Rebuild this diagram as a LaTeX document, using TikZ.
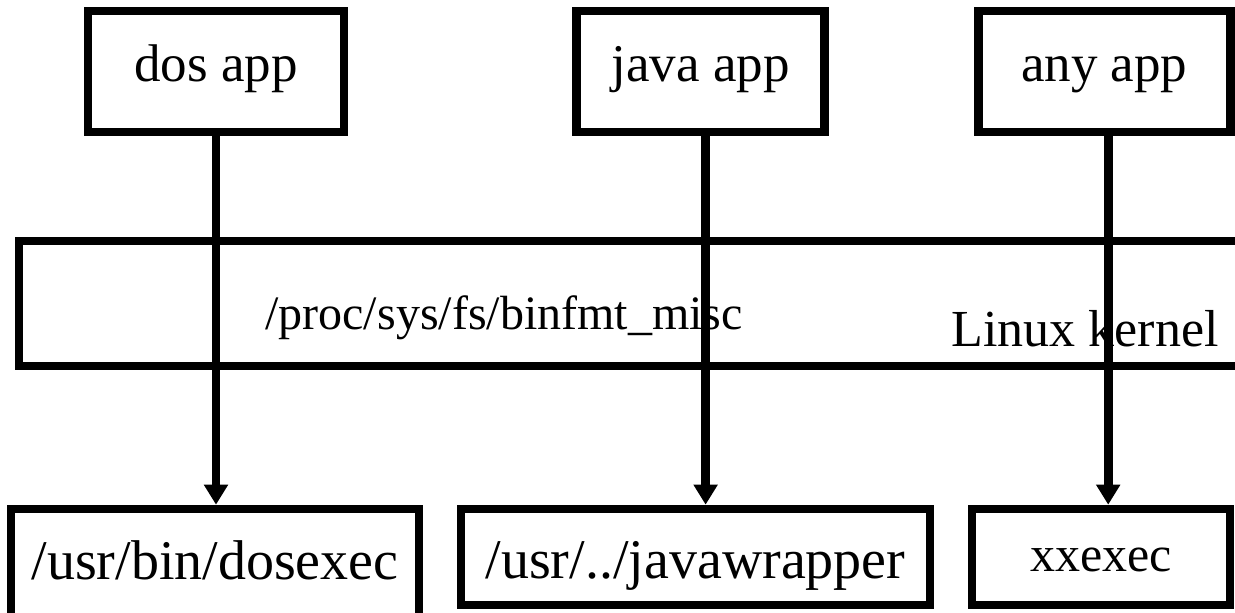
\documentclass[tikz,border=0pt]{standalone}
\usepackage{fontspec}
\setmainfont{Liberation Serif}
\usetikzlibrary{arrows.meta, positioning}

\begin{document}
\begin{tikzpicture}[x=0.5pt, y=-0.5pt,
    box/.style={draw, line width=4.3pt, inner sep=0pt, text depth=0pt},
    app/.style={box, minimum height=60.5pt, text height=10.5pt, font=\fontsize{26.5}{30}\selectfont},
    exe/.style={box, minimum height=48pt, text height=21pt, font=\fontsize{28}{32}\selectfont},
    call/.style={-{Triangle[width=11.5pt,length=10pt]}, line width=4.3pt}]
  \useasboundingbox (0,0) rectangle (1235,613);

  % kernel layer, open to the right
  \node[box, minimum width=620.5pt, minimum height=62.5pt] (kernel) at (639.5,303.5) {};
  \node[anchor=base, font=\fontsize{24}{28}\selectfont] (binfmt) at (504,330) {/proc/sys/fs/binfmt\_misc};
  \node[anchor=base, font=\fontsize{26}{30}\selectfont] (linux) at (1085,347) {Linux kernel};

  % applications
  \node[app, minimum width=128pt] (dos) at (216,71.5) {dos app};
  \node[app, minimum width=124pt, right=112pt of dos] (java) {java app};
  \node[app, minimum width=126pt, right=72.5pt of java] (any) {any app};

  % interpreters
  \node[exe, minimum width=204pt, minimum height=60pt, text height=11pt] (dosexec) at (215,569) {/usr/bin/dosexec};
  \node[exe, minimum width=234.5pt] (javawrap) at (695.5,557) {/usr/../javawrapper};
  \node[exe, minimum width=129pt, text height=15pt, font=\fontsize{25}{30}\selectfont] (xxexec) at (1101,557) {xxexec};

  \draw[call] (dos) -- (dos |- dosexec.north);
  \draw[call] ([xshift=2.5pt]java.south) -- ([xshift=2.5pt]java.south |- javawrap.north);
  \draw[call] ([xshift=2pt]any.south) -- ([xshift=2pt]any.south |- xxexec.north);
\end{tikzpicture}
\end{document}
